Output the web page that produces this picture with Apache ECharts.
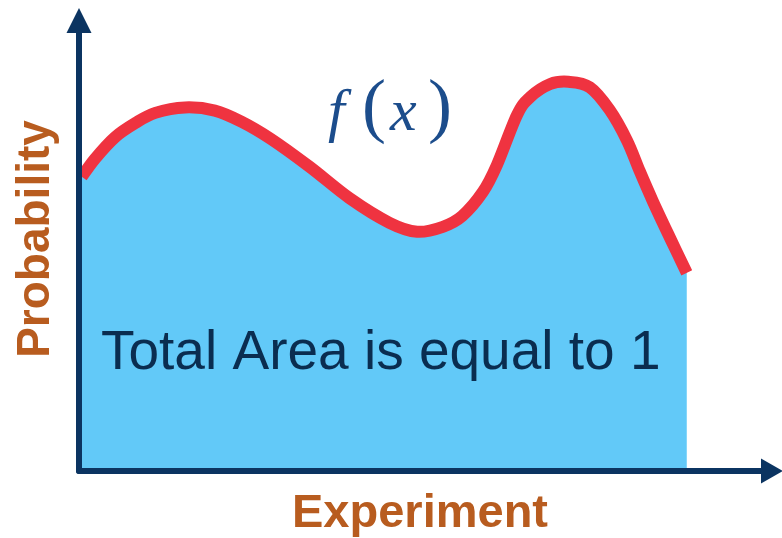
<!DOCTYPE html>
<html>
<head>
<meta charset="utf-8">
<script src="https://cdn.jsdelivr.net/npm/echarts@6/dist/echarts.min.js"></script>
<style>
  html, body { margin: 0; padding: 0; background: #ffffff; }
  #chart { width: 782px; height: 538px; }
</style>
</head>
<body>
<div id="chart"></div>
<script>
// Density curve f(x): sample positions along the experiment axis and their probability values
const xValues = [0.04, 0.23, 0.52, 0.81, 1.10, 1.53, 1.96, 2.35, 2.77, 3.33, 3.90, 4.48, 4.88, 5.25, 5.53, 5.83, 6.03, 6.32, 6.51, 6.80, 7.06, 7.37, 7.66, 7.91, 8.09, 8.28, 8.53, 8.77];
const yValues = [6.53, 6.93, 7.41, 7.72, 7.95, 8.07, 8.00, 7.75, 7.37, 6.75, 6.06, 5.51, 5.31, 5.42, 5.66, 6.20, 6.79, 7.90, 8.30, 8.59, 8.64, 8.52, 8.01, 7.33, 6.66, 5.99, 5.17, 4.40];

const xAxisName = 'Experiment';
const yAxisName = 'Probability';
const areaLabel = 'Total Area is equal to 1';

const AXIS_COLOR = '#0b3461';
const NAME_COLOR = '#b85c1f';
const CURVE_COLOR = '#ef3340';
const FILL_COLOR = '#62c9f8';
const LABEL_COLOR = '#0a2d50';
const FORMULA_COLOR = '#1c4d8c';

const points = xValues.map((x, i) => [x, yValues[i]]);

// Smooth curve through the projected points (Catmull-Rom converted to cubic Bezier segments)
function curvePath(px) {
  let d = 'M' + px[0][0] + ' ' + px[0][1];
  for (let i = 0; i < px.length - 1; i++) {
    const p0 = px[Math.max(i - 1, 0)];
    const p1 = px[i];
    const p2 = px[i + 1];
    const p3 = px[Math.min(i + 2, px.length - 1)];
    const c1x = p1[0] + (p2[0] - p0[0]) / 6, c1y = p1[1] + (p2[1] - p0[1]) / 6;
    const c2x = p2[0] - (p3[0] - p1[0]) / 6, c2y = p2[1] - (p3[1] - p1[1]) / 6;
    d += ' C' + c1x + ' ' + c1y + ' ' + c2x + ' ' + c2y + ' ' + p2[0] + ' ' + p2[1];
  }
  return d;
}

function renderDensity(params, api) {
  if (params.dataIndex !== 0) return null;
  const px = points.map(p => api.coord(p));
  const base = api.coord([0, 0])[1];
  const line = curvePath(px);
  const area = line + ' L' + px[px.length - 1][0] + ' ' + base + ' L' + px[0][0] + ' ' + base + ' Z';
  return {
    type: 'group',
    children: [
      { type: 'path', shape: { pathData: area }, style: { fill: FILL_COLOR, stroke: null } },
      { type: 'path', shape: { pathData: line }, style: { fill: null, stroke: CURVE_COLOR, lineWidth: 12, lineCap: 'butt', lineJoin: 'round' } }
    ]
  };
}

const chart = echarts.init(document.getElementById('chart'), null, { renderer: 'canvas' });

const axisLine = {
  show: true,
  symbol: ['none', 'triangle'],
  lineStyle: { color: AXIS_COLOR, width: 6 }
};

const serif = '"Liberation Serif", "DejaVu Serif", serif';
const sans = '"Liberation Sans", Arial, sans-serif';

chart.setOption({
  animation: false,
  backgroundColor: '#ffffff',
  grid: { left: 79, right: 10, top: 20.5, bottom: 67 },
  xAxis: {
    type: 'value', min: 0, max: 10, z: 5,
    axisLine: Object.assign({}, axisLine, { symbolSize: [25, 22] }),
    axisTick: { show: false }, axisLabel: { show: false }, splitLine: { show: false }
  },
  yAxis: {
    type: 'value', min: 0, max: 10, z: 5,
    axisLine: Object.assign({}, axisLine, { symbolSize: [25, 25] }),
    axisTick: { show: false }, axisLabel: { show: false }, splitLine: { show: false }
  },
  series: [{
    type: 'custom',
    data: points,
    encode: { x: 0, y: 1 },
    renderItem: renderDensity,
    z: 1,
    silent: true
  }],
  graphic: [
    {
      type: 'text', x: 101, y: 354, z: 10,
      style: { text: areaLabel, font: '55px ' + sans, fill: LABEL_COLOR, verticalAlign: 'middle' }
    },
    {
      type: 'text', x: 420, y: 514, z: 10,
      style: { text: xAxisName, font: 'bold 47px ' + sans, fill: NAME_COLOR, align: 'center', verticalAlign: 'middle' }
    },
    {
      type: 'text', x: 36, y: 239, rotation: Math.PI / 2, z: 10,
      style: { text: yAxisName, font: 'bold 46px ' + sans, fill: NAME_COLOR, align: 'center', verticalAlign: 'middle' }
    },
    { type: 'text', x: 328, y: 114, z: 10, style: { text: 'f', font: 'italic 60px ' + serif, fill: FORMULA_COLOR, verticalAlign: 'middle' } },
    { type: 'text', x: 362, y: 110, z: 10, style: { text: '(', font: '72px ' + serif, fill: FORMULA_COLOR, verticalAlign: 'middle' } },
    { type: 'text', x: 390, y: 114, z: 10, style: { text: 'x', font: 'italic 60px ' + serif, fill: FORMULA_COLOR, verticalAlign: 'middle' } },
    { type: 'text', x: 428, y: 110, z: 10, style: { text: ')', font: '72px ' + serif, fill: FORMULA_COLOR, verticalAlign: 'middle' } }
  ]
});
</script>
</body>
</html>
